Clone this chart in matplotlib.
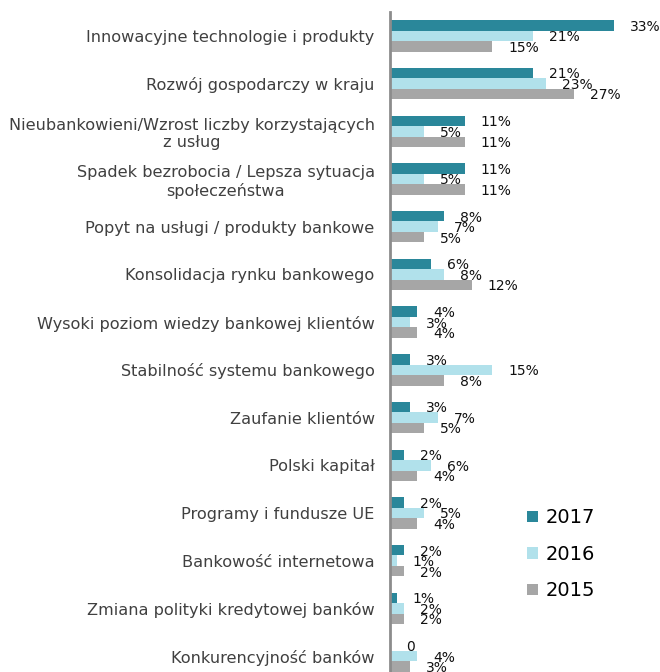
import matplotlib.pyplot as plt
import numpy as np

CATEGORIES = [
    "Innowacyjne technologie i produkty",
    "Rozwój gospodarczy w kraju",
    "Nieubankowieni/Wzrost liczby korzystających\nz usług",
    "Spadek bezrobocia / Lepsza sytuacja\nspołeczeństwa",
    "Popyt na usługi / produkty bankowe",
    "Konsolidacja rynku bankowego",
    "Wysoki poziom wiedzy bankowej klientów",
    "Stabilność systemu bankowego",
    "Zaufanie klientów",
    "Polski kapitał",
    "Programy i fundusze UE",
    "Bankowość internetowa",
    "Zmiana polityki kredytowej banków",
    "Konkurencyjność banków",
]

YEARS = ["2017", "2016", "2015"]
VALUES_2017 = [33, 21, 11, 11, 8, 6, 4, 3, 3, 2, 2, 2, 1, 0]
VALUES_2016 = [21, 23, 5, 5, 7, 8, 3, 15, 7, 6, 5, 1, 2, 4]
VALUES_2015 = [15, 27, 11, 11, 5, 12, 4, 8, 5, 4, 4, 2, 2, 3]

COLORS = ["#2a879a", "#b1e1eb", "#a6a6a6"]
BAR_H = 0.22


def value_label(v):
    return "%d%%" % v if v else "0"


fig = plt.figure(figsize=(6.6, 6.72), dpi=100)
ax = fig.add_axes([390 / 660, -8 / 672, 270 / 660, 668 / 672])

y = np.arange(len(CATEGORIES))
series = [VALUES_2017, VALUES_2016, VALUES_2015]
for i, (vals, year, col) in enumerate(zip(series, YEARS, COLORS)):
    pos = y + (i - 1) * BAR_H
    ax.barh(pos, vals, height=BAR_H, color=col, label=year, edgecolor="none")
    for p, v in zip(pos, vals):
        ax.annotate(value_label(v), (v, p), xytext=(11.5, -1), textcoords="offset points",
                    ha="left", va="center", fontsize=10, color="#111111")

ax.set_xlim(0, 39.7)
ax.set_ylim(len(CATEGORIES) - 0.5, -0.5)
ax.set_yticks(y)
ax.set_yticklabels(CATEGORIES, fontsize=11.6, color="#404040", multialignment="center")
ax.tick_params(axis="y", length=0, pad=11)
ax.set_xticks([])
for side in ["top", "right", "bottom"]:
    ax.spines[side].set_visible(False)
ax.spines["left"].set_color("#8c8c8c")
ax.spines["left"].set_linewidth(2)

ax.legend(loc="upper left", bbox_to_anchor=(0.444, 0.283), bbox_transform=ax.transAxes,
          frameon=False, fontsize=14, handlelength=0.55, handleheight=0.55,
          handletextpad=0.4, labelspacing=0.9)

fig.savefig("out.png", dpi=100)
